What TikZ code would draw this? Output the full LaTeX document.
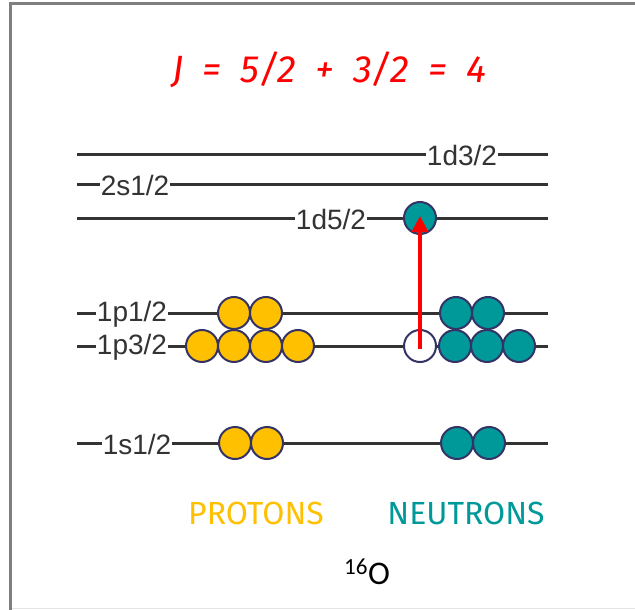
\documentclass[tikz,border=0pt]{standalone}
\usepackage{fontspec}
\setmainfont{Liberation Sans}
\newfontfamily\titlefont{Fira Sans}
\newfontfamily\labelfont{Liberation Sans}
\newfontfamily\isofont{Carlito}
\usetikzlibrary{arrows.meta}
\definecolor{protongold}{HTML}{FFC000}
\definecolor{neutronteal}{HTML}{009999}
\definecolor{rimnavy}{HTML}{333366}
\definecolor{levelgray}{HTML}{333333}
\definecolor{framegray}{HTML}{7F7F7F}
\tikzset{
  level/.style={draw=levelgray, line width=3pt},
  lvlabel/.style={fill=white, text=levelgray, inner xsep=1pt, inner ysep=1pt,
    font=\labelfont\fontsize{28}{28}\selectfont},
  nucleon/.style={circle, draw=rimnavy, line width=2pt, minimum size=32pt, inner sep=0pt},
  proton/.style={nucleon, fill=protongold},
  neutron/.style={nucleon, fill=neutronteal},
  hole/.style={nucleon, fill=white},
  jump/.style={draw=red, line width=3.6pt, -{Triangle[length=16pt,width=16pt]}},
  caption/.style={anchor=base, font=\titlefont\fontsize{32}{32}\selectfont},
}
\begin{document}
\begin{tikzpicture}[x=1pt,y=-1pt]
\useasboundingbox (0,0) rectangle (635,610);
\fill[white] (0,0) rectangle (635,610);
% frame
\draw[framegray!20, line width=1.5pt] (12,608.5) -- (635,608.5);
\draw[framegray, line width=3pt] (10.5,3.5) -- (635,3.5);
\draw[framegray, line width=3pt] (10.5,2) -- (10.5,610);

% title
\node[anchor=base, text=red, font=\titlefont\itshape\fontsize{38}{38}\selectfont\addfontfeatures{LetterSpace=2}]
  (title) at (329,83) {\spaceskip=19pt J = 5/2 + 3/2 = 4};

% shell levels
\coordinate (d3L) at (77,154);  \coordinate (d3R) at (548,154);
\coordinate (s2L) at (77,184);  \coordinate (s2R) at (548,184);
\coordinate (d5L) at (77,218);  \coordinate (d5R) at (548,218);
\coordinate (p1L) at (77,313);  \coordinate (p1R) at (548,313);
\coordinate (p3L) at (77,346);  \coordinate (p3R) at (548,346);
\coordinate (s1L) at (77,443);  \coordinate (s1R) at (548,443);
\foreach \a/\b in {d3L/d3R, s2L/s2R, d5L/d5R, p1L/p1R, p3L/p3R, s1L/s1R}
  \draw[level] (\a) -- (\b);

\node[lvlabel] (lbd3) at (462,155) {1d3/2};
\node[lvlabel] (lbs2) at (135,185) {2s1/2};
\node[lvlabel] (lbd5) at (331,219) {1d5/2};
\node[lvlabel] (lbp1) at (132,314) {1p1/2};
\node[lvlabel] (lbp3) at (132,347) {1p3/2};
\node[lvlabel] (lbs1) at (137,444) {1s1/2};

% protons
\node[proton] (pp1a) at (234,313) {};
\node[proton] (pp1b) at (266,313) {};
\node[proton] (pp3a) at (202,346) {};
\node[proton] (pp3b) at (234,346) {};
\node[proton] (pp3c) at (266,346) {};
\node[proton] (pp3d) at (298,346) {};
\node[proton] (ps1a) at (235,443) {};
\node[proton] (ps1b) at (267,443) {};

% neutrons
\node[neutron] (nd5)  at (420,218) {};
\node[neutron] (np1a) at (456,313) {};
\node[neutron] (np1b) at (488,313) {};
\node[hole]    (nhole) at (420,346) {};
\node[neutron] (np3a) at (455,346) {};
\node[neutron] (np3b) at (487,346) {};
\node[neutron] (np3c) at (519,346) {};
\node[neutron] (ns1a) at (457,443) {};
\node[neutron] (ns1b) at (489,443) {};

% excitation
\draw[jump] ([yshift=-3pt]nhole.center) -- ([yshift=2pt]nd5.center);

% captions
\node[caption, text=protongold] (ptext) at (256,524) {PROTONS};
\node[caption, text=neutronteal] (ntext) at (466,524) {NEUTRONS};
\node[anchor=base, text=black, font=\isofont\fontsize{33}{33}\selectfont] (nucl) at (367,584) {\textsuperscript{16}O};
\end{tikzpicture}
\end{document}
